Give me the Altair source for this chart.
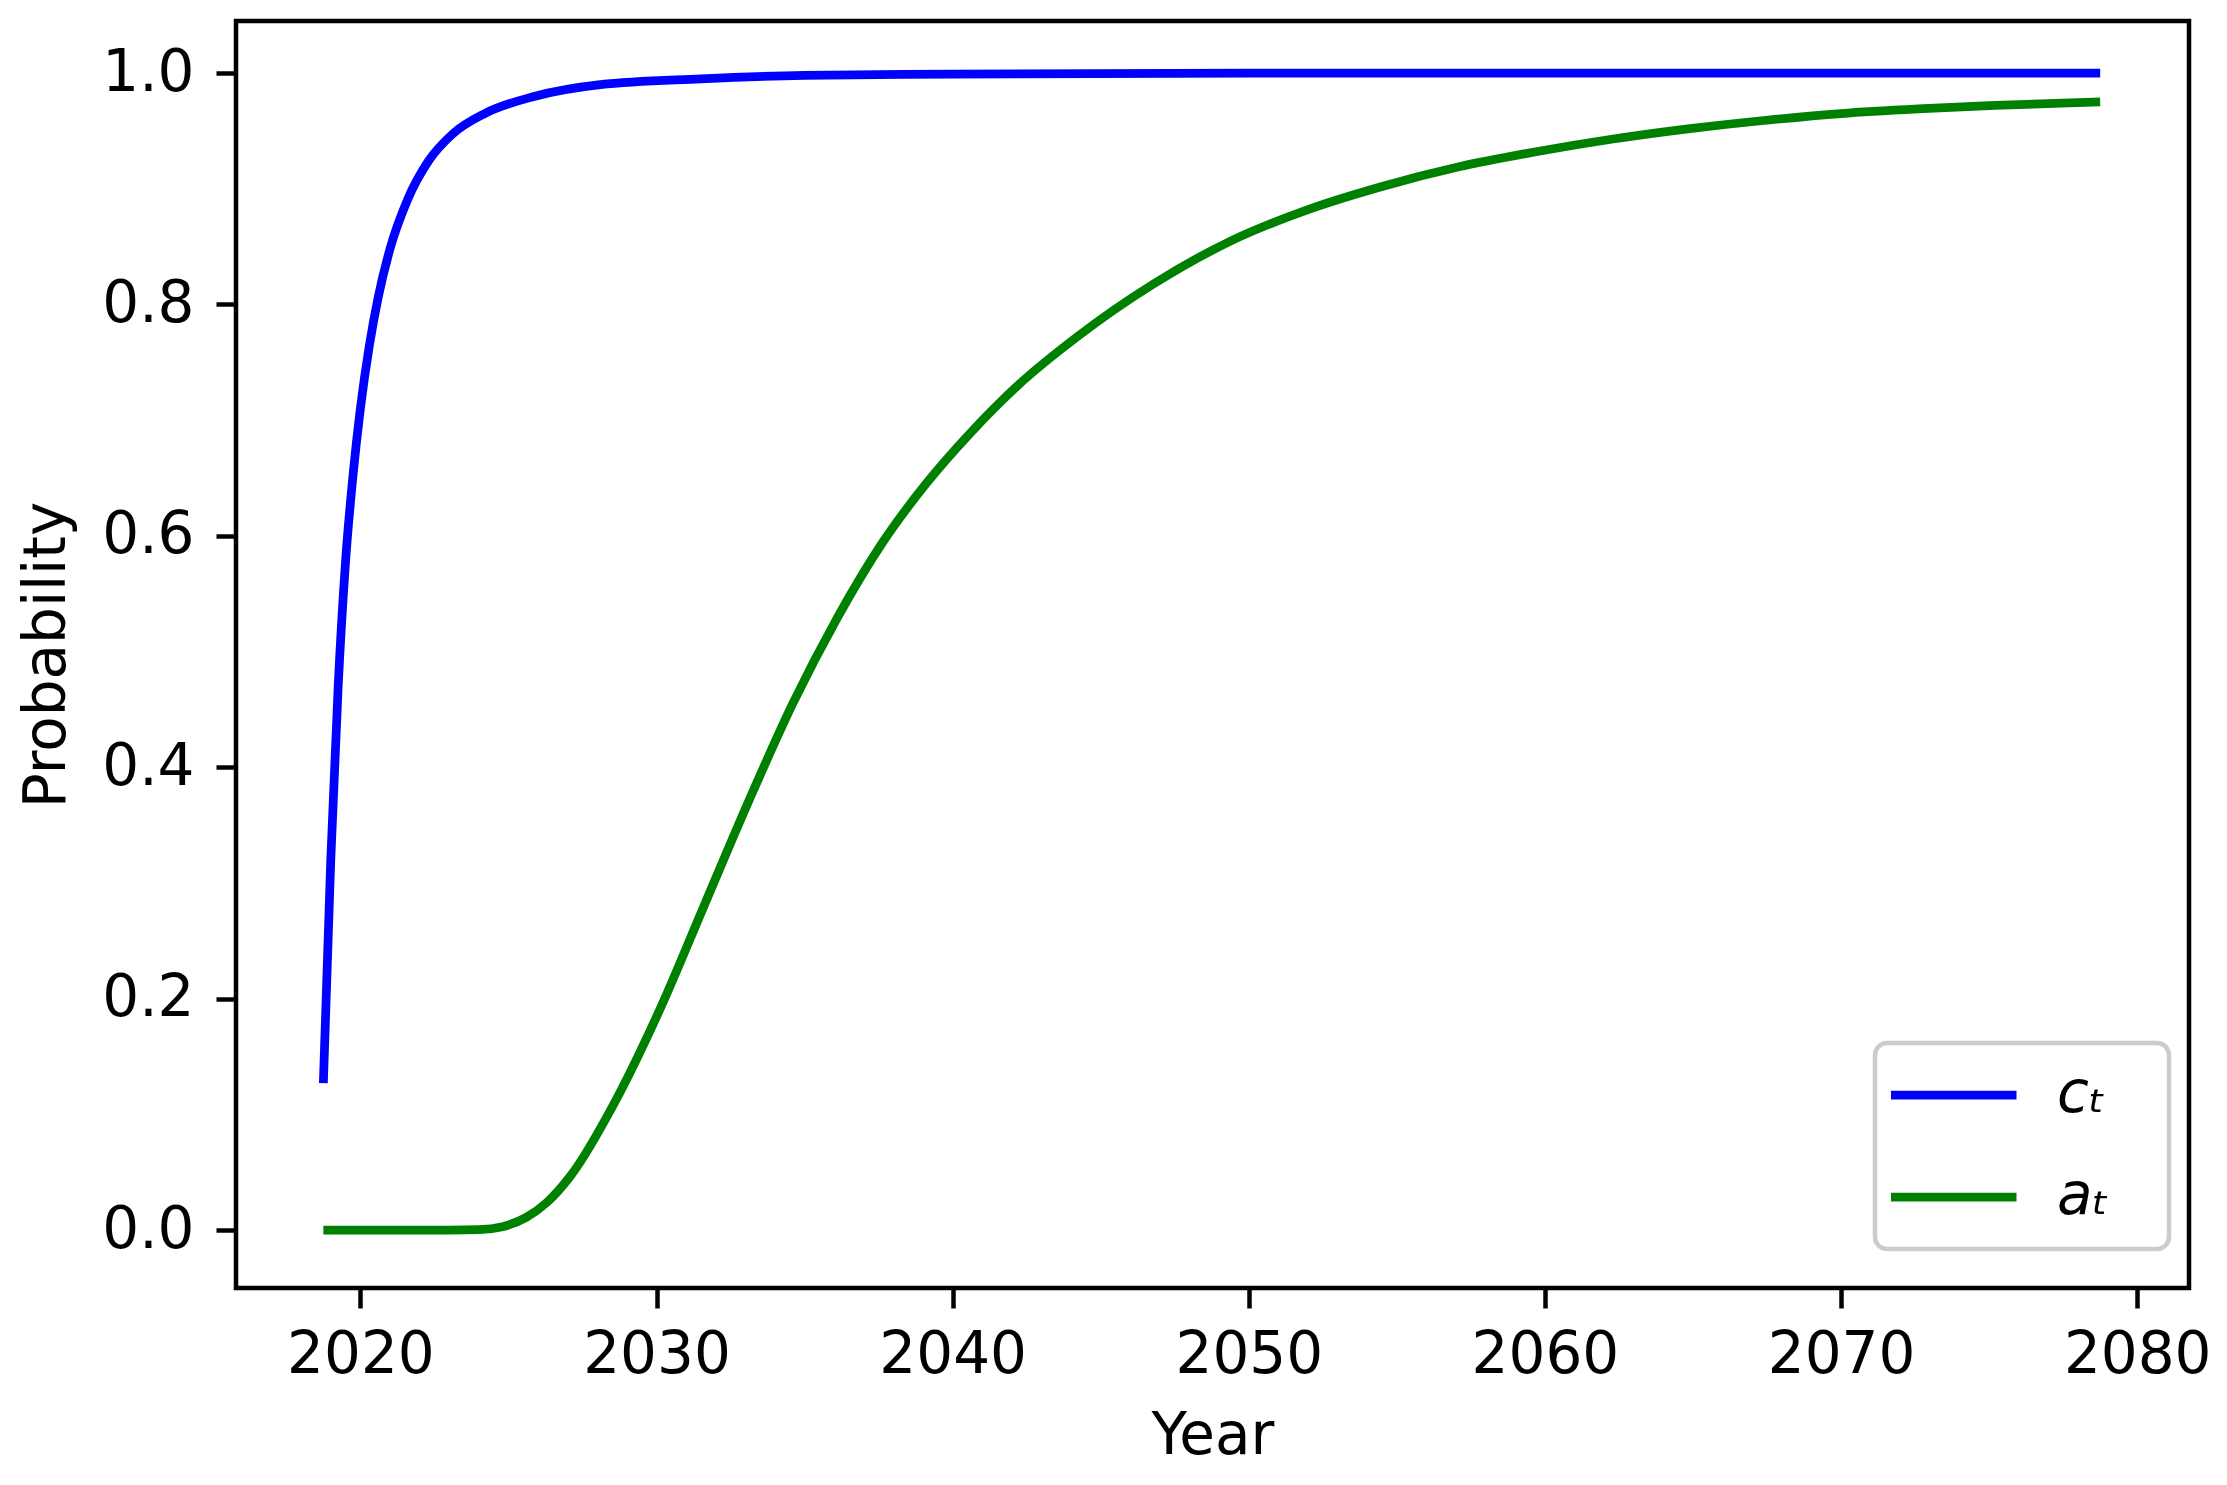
import altair as alt
import pandas as pd

# Series labels (legend) and colours
series_names = ["cₜ", "aₜ"]
series_colors = ["#0000ff", "#008000"]

# c_T curve
c_years = [2018.75, 2019.0, 2019.25, 2019.5, 2019.75, 2020.0, 2020.3, 2020.6,
           2021.0, 2021.6, 2022.3, 2023.1, 2024.2, 2025.9, 2028.1, 2031.5,
           2035.0, 2040.0, 2050.0, 2060.0, 2070.0, 2078.75]
c_values = [0.127, 0.32, 0.47, 0.578, 0.652, 0.710, 0.764, 0.806,
            0.848, 0.891, 0.924, 0.947, 0.965, 0.980, 0.990, 0.995,
            0.998, 0.999, 1.0, 1.0, 1.0, 1.0]

# a_T curve
a_years = [2018.75, 2022.0, 2024.0, 2024.8, 2025.6, 2026.3, 2027.1, 2028.6,
           2030.1, 2031.6, 2033.1, 2034.6, 2036.1, 2037.6, 2039.1, 2040.6,
           2042.2, 2044.2, 2046.8, 2049.4, 2052.0, 2054.5, 2057.1, 2059.7,
           2062.3, 2064.9, 2067.4, 2070.0, 2072.6, 2075.2, 2078.75]
a_values = [0.0, 0.0, 0.0005, 0.003, 0.011, 0.024, 0.047, 0.111,
            0.190, 0.280, 0.370, 0.455, 0.529, 0.593, 0.645, 0.689,
            0.730, 0.772, 0.818, 0.855, 0.882, 0.902, 0.919, 0.932,
            0.943, 0.952, 0.959, 0.965, 0.969, 0.972, 0.975]

x_ticks = [2020, 2030, 2040, 2050, 2060, 2070, 2080]
y_ticks = [0.0, 0.2, 0.4, 0.6, 0.8, 1.0]

df = pd.concat([
    pd.DataFrame({"year": c_years, "p": c_values, "series": series_names[0]}),
    pd.DataFrame({"year": a_years, "p": a_values, "series": series_names[1]}),
], ignore_index=True)

FONT = "DejaVu Sans"
FS = 58

chart = alt.Chart(df).mark_line(strokeWidth=8.75, interpolate="monotone", clip=True).encode(
    x=alt.X("year:Q",
            scale=alt.Scale(domain=[2015.8, 2081.75], nice=False, zero=False),
            axis=alt.Axis(title="Year", values=x_ticks, format="d",
                          labelPadding=18, titlePadding=23)),
    y=alt.Y("p:Q",
            scale=alt.Scale(domain=[-0.05, 1.045], nice=False, zero=False),
            axis=alt.Axis(title="Probability", values=y_ticks, format=".1f",
                          labelPadding=22, titlePadding=25)),
    color=alt.Color("series:N",
                    scale=alt.Scale(domain=series_names, range=series_colors),
                    legend=alt.Legend(
                        title=None, orient="none", legendX=1639, legendY=1022,
                        symbolType="stroke", symbolSize=16129, symbolStrokeWidth=8.75,
                        symbolOffset=-6, labelFontSize=FS, labelFont=FONT,
                        labelFontStyle="italic", labelColor="black", labelOffset=36,
                        clipHeight=72, rowPadding=30, padding=16,
                        strokeColor="#cccccc", fillColor="white", cornerRadius=12,
                        labelExpr="datum.label + '\u2800'")),
).properties(
    width=1953, height=1267,
    autosize=alt.AutoSizeParams(type="none"),
    padding={"left": 228, "top": 13, "right": 30, "bottom": 180},
).configure_view(
    stroke="black", strokeWidth=4.5
).configure_axis(
    labelFont=FONT, labelFontSize=FS, labelColor="black",
    titleFont=FONT, titleFontSize=FS, titleFontWeight="normal", titleColor="black",
    tickColor="black", tickWidth=4.5, tickSize=20,
    domain=False, grid=False, labelFlush=False, labelOverlap=False,
).configure_legend(
    strokeWidth=4.5
)

chart.save("out.html", embed_options={"renderer": "svg", "actions": False})
